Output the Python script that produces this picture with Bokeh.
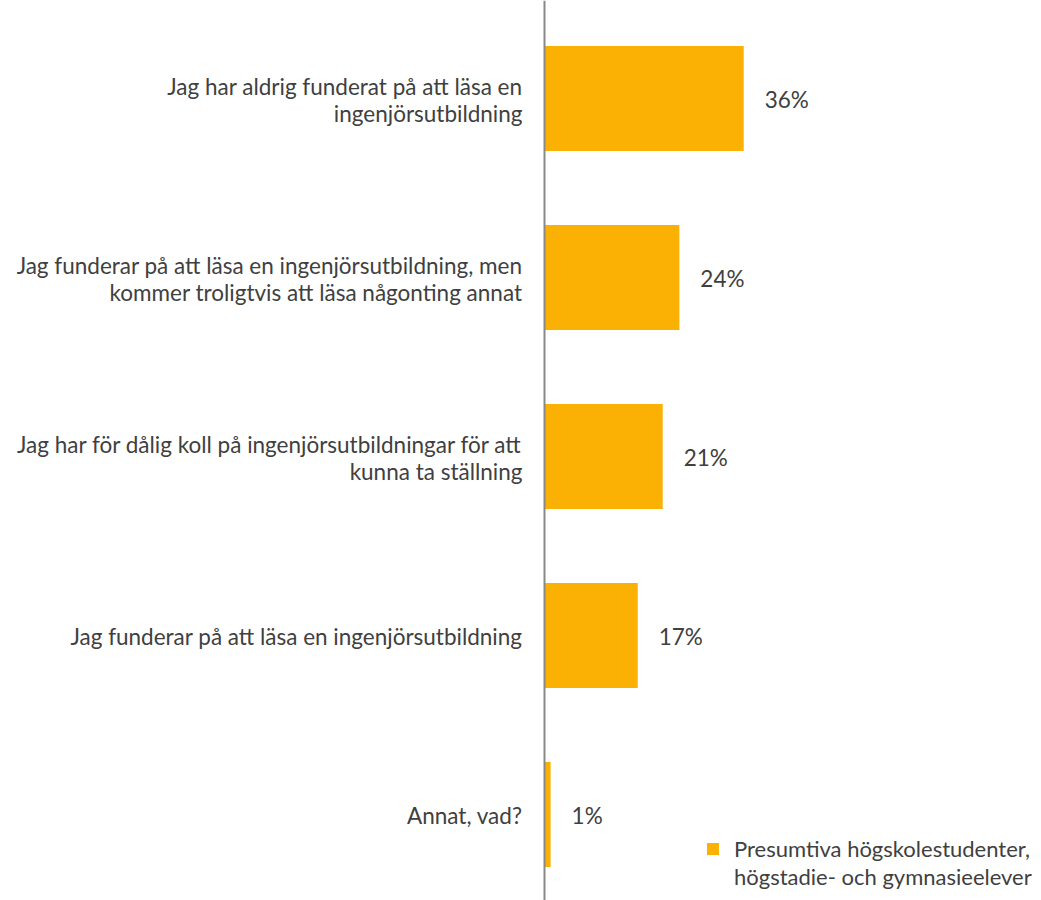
from bokeh.plotting import figure
from bokeh.models import Range1d, ColumnDataSource, Span, Legend, LegendItem
from bokeh.core.properties import value
from bokeh.embed import file_html
from bokeh.resources import INLINE

categories = [
    "Jag har aldrig funderat på att läsa en\ningenjörsutbildning",
    "Jag funderar på att läsa en ingenjörsutbildning, men\nkommer troligtvis att läsa någonting annat",
    "Jag har för dålig koll på ingenjörsutbildningar för att\nkunna ta ställning",
    "Jag funderar på att läsa en ingenjörsutbildning",
    "Annat, vad?",
]
values = [35.9, 24.3, 21.3, 16.8, 1.1]
series_name = ["Presumtiva högskolestudenter,", "högstadie- och gymnasieelever"]

BAR = "#FBB104"
TXT = "#404040"
FONT = "Lato"
FS = "22.5px"

pos = list(range(len(categories)))
src = ColumnDataSource(dict(
    y=pos, v=values, cat=categories,
    lbl=[f"{round(v)}%" for v in values],
    zero=[0] * len(values),
))

W, H = 1041, 900
px_per_unit = 5.55
xl = -544 / px_per_unit
xr = xl + W / px_per_unit
pitch = 179.0
yt = (0 - 98) / pitch
yb = (H - 98) / pitch

p = figure(width=W, height=H, x_range=Range1d(xl, xr),
           y_range=Range1d(yb, yt),
           x_axis_type=None, y_axis_type=None,
           output_backend="svg", toolbar_location=None, min_border=0)
p.grid.visible = False
p.outline_line_color = None

bars = p.hbar(y="y", left=0, right="v", height=0.587, source=src,
              fill_color=BAR, line_color=None)

p.text(x="v", y="y", text="lbl", source=src, x_offset=21, y_offset=1,
       text_align="left", text_baseline="middle",
       text_font=value(FONT), text_font_size=FS, text_color=TXT)

p.text(x="zero", y="y", text="cat", source=src, x_offset=-22, y_offset=1,
       text_align="right", text_baseline="middle", text_line_height=1.0,
       text_font=value(FONT), text_font_size=FS, text_color=TXT)

axis_line = Span(location=0, dimension="height", line_color="#898989",
                 line_width=2, level="overlay")
p.add_layout(axis_line)

dummy = p.scatter(x=[], y=[], alpha=0)
legend = Legend(items=[LegendItem(label=series_name[0], renderers=[bars]),
                       LegendItem(label=series_name[1], renderers=[dummy])],
                location=(705, 10), padding=0, margin=0, spacing=0,
                border_line_color=None, background_fill_alpha=0,
                glyph_width=15, glyph_height=15, label_height=28,
                label_standoff=14, label_text_font=FONT,
                label_text_font_size="22px", label_text_color=TXT)
p.add_layout(legend)

open("out.html", "w").write(file_html(p, INLINE))
